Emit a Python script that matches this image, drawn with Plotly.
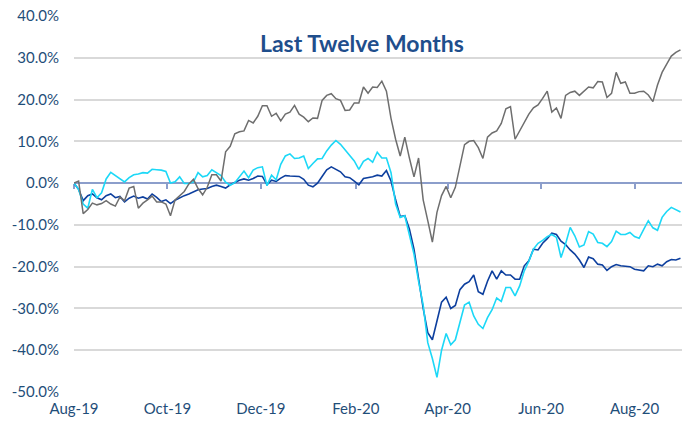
import plotly.graph_objects as go
import pandas as pd

# Dates sampled every 3 days across the last twelve months
dates = pd.date_range("2019-08-01", periods=133, freq="3D")

gray_series = [
    0.0, 0.5, -7.3, -6.3, -4.8, -5.2, -4.9, -4.2, -5.0, -5.5,
    -3.3, -4.2, -1.2, -0.8, -6.0, -4.8, -4.0, -3.1, -4.5, -4.5,
    -5.0, -7.8, -4.0, -3.1, -2.0, -0.2, 0.9, -1.3, -2.8, -1.0,
    2.0, 2.0, 0.5, 7.5,
    8.8, 11.8, 12.3, 12.5, 15.0, 14.4, 16.0, 18.5, 18.5, 16.0,
    16.7, 14.9, 16.5, 17.0, 18.6, 16.5, 15.8, 14.7, 15.6, 15.5,
    19.8, 21.0, 21.4, 20.2, 19.8, 17.4, 17.5, 19.2, 19.2, 23.0,
    21.5, 23.0, 22.9, 24.4, 22.0, 15.5,
    10.5, 6.5, 11.0, 6.0, 1.5, 6.0, -4.0, -9.0, -14.1, -7.0,
    -3.0, -0.8, -3.5, -1.0, 4.5, 9.2, 10.0, 10.2, 8.5, 5.9,
    11.0, 12.0, 12.5, 14.3, 17.8, 18.3, 10.5, 12.5, 14.7, 16.5,
    18.0, 18.7, 20.3, 22.0, 17.0, 18.0, 15.5, 21.0, 21.7, 22.0,
    21.0, 21.9, 23.0, 22.8, 24.3, 24.2, 20.5, 21.5, 26.5, 23.9,
    24.2, 21.5, 21.5, 21.9, 22.0, 21.1, 19.5, 23.5, 26.5, 28.5,
    30.4, 31.3, 31.9,
]

cyan_series = [
    0.0, -1.5, -5.0, -6.0, -1.5, -3.5, -2.3, 1.0, 2.6, 1.8,
    1.2, 0.3, 1.3, 2.0, 2.2, 2.5, 2.4, 3.3, 3.2, 3.1,
    2.8, 0.0, 0.3, 1.5, -0.1, -0.1, 0.3, 2.5, 1.5, 1.8,
    3.2, 2.6, 1.8, 0.2,
    -0.5, 0.1, 1.4, 2.9, 1.3, 3.1, 3.7, 3.9, -0.6, 1.9,
    0.8, 4.5, 6.5, 7.0, 5.9, 6.0, 6.5, 3.5, 4.7, 5.8,
    5.9, 7.7, 9.1, 10.2, 9.3, 7.9, 6.6, 5.3, 3.3, 5.2,
    5.9, 5.0, 7.4, 6.0, 6.0, 2.5,
    -5.0, -8.2, -7.8, -12.5, -17.0, -23.5, -29.2, -38.2, -42.0, -46.5,
    -40.0, -36.0, -38.7, -37.5, -33.6, -29.2, -28.5, -31.8, -33.8, -34.8,
    -32.2, -30.3, -27.5, -28.3, -25.0, -25.0, -27.0, -24.6, -21.0, -18.7,
    -15.8, -14.4, -13.7, -12.8, -12.3, -13.0, -17.8, -14.5, -10.6, -12.6,
    -15.3, -14.8, -11.6, -12.2, -14.2, -14.4, -15.2, -14.0, -11.5, -12.3,
    -12.3, -11.8, -12.8, -13.2, -11.1, -9.0, -10.7, -11.3, -8.2, -6.8,
    -5.8, -6.3, -6.9,
]

navy_series = [
    0.0, -1.5, -4.2, -3.0, -2.6, -3.5, -4.0, -3.0, -2.6, -3.5,
    -3.2, -4.5, -3.6, -3.1, -3.6, -3.3, -3.8, -2.6, -3.4, -4.4,
    -4.0, -4.9, -4.1, -3.5, -3.0, -2.6, -2.1, -1.6, -1.4, -1.3,
    -0.8, -0.5, -0.8, -1.2,
    -0.4, 0.2, 0.7, 1.0, 0.7, 1.1, 1.7, 1.6, -0.4, 0.7,
    0.4, 1.2, 1.8, 1.7, 1.7, 1.6, 0.9, -0.5, -0.9, 0.0,
    1.6, 3.2, 3.9, 3.2, 2.7, 1.5, 1.3, 0.5, -0.4, 1.1,
    1.3, 1.5, 1.9, 1.7, 3.0, 0.5,
    -4.0, -8.0, -7.8, -11.0, -15.8, -23.3, -30.0, -35.8, -37.5, -33.0,
    -28.5, -27.3, -30.0, -29.3, -25.5, -24.2, -23.6, -22.0, -26.0, -26.6,
    -23.5, -21.0, -23.0, -21.0, -22.0, -22.0, -23.0, -23.0, -19.8, -18.6,
    -15.8, -16.0, -14.4, -13.3, -12.0, -12.3, -13.9, -14.7, -16.0, -17.0,
    -18.4, -20.2, -17.7, -18.1, -19.4, -19.6, -20.9, -20.0, -19.5, -19.8,
    -19.9, -20.0, -20.6, -20.8, -21.0, -19.8, -20.0, -19.4, -19.8, -18.8,
    -18.3, -18.4, -18.0,
]

x_tick_dates = ["2019-08-01", "2019-10-01", "2019-12-01", "2020-02-01",
                "2020-04-01", "2020-06-01", "2020-08-01"]
x_tick_labels = ["Aug-19", "Oct-19", "Dec-19", "Feb-20", "Apr-20", "Jun-20", "Aug-20"]
y_tick_values = [-50, -40, -30, -20, -10, 0, 10, 20, 30, 40]
y_tick_labels = [f"{v:.1f}%" for v in y_tick_values]

title_text = "Last Twelve Months"

FONT = "Lato, 'Open Sans', sans-serif"
LABEL_COLOR = "#1F4E79"
AXIS_COLOR = "#8C9ECB"
x_range = ["2019-08-01", "2020-09-01"]

fig = go.Figure()
fig.add_trace(go.Scatter(x=dates, y=navy_series, mode="lines",
                         line=dict(color="#0D3F9E", width=1.6), showlegend=False))
fig.add_trace(go.Scatter(x=dates, y=cyan_series, mode="lines",
                         line=dict(color="#1CD8F7", width=1.6), showlegend=False))
fig.add_trace(go.Scatter(x=dates, y=gray_series, mode="lines",
                         line=dict(color="#6E6E6E", width=1.5), showlegend=False))
# helper trace so the zero-crossing axis is rendered
fig.add_trace(go.Scatter(x=[dates[0]], y=[None], xaxis="x2", mode="lines",
                         showlegend=False, hoverinfo="skip"))

fig.update_layout(
    width=689, height=428,
    margin=dict(l=74, r=7, t=16, b=36),
    paper_bgcolor="white", plot_bgcolor="white",
    font=dict(family=FONT, color=LABEL_COLOR),
    xaxis=dict(type="date", range=x_range, tickvals=x_tick_dates, ticktext=x_tick_labels,
               showgrid=False, showline=False, zeroline=False, ticks="",
               tickfont=dict(size=15, color=LABEL_COLOR, family=FONT),
               ticklabelstandoff=6),
    xaxis2=dict(type="date", range=x_range, overlaying="x", anchor="free",
                position=50 / 90, tickvals=x_tick_dates, showticklabels=False,
                showgrid=False, zeroline=False, showline=True, linecolor=AXIS_COLOR,
                linewidth=2.2, ticks="outside", ticklen=5, tickwidth=2,
                tickcolor=AXIS_COLOR, layer="below traces"),
    yaxis=dict(range=[-50, 40], tickvals=y_tick_values, ticktext=y_tick_labels,
               showgrid=True, gridcolor="#D9D9D9", gridwidth=1.6, zeroline=False,
               showline=False, ticks="",
               tickfont=dict(size=15, color=LABEL_COLOR, family=FONT),
               ticklabelstandoff=14),
    annotations=[dict(text=f"<b>{title_text}</b>", xref="paper", yref="paper",
                      x=0.474, y=0.927, xanchor="center", yanchor="middle",
                      showarrow=False,
                      font=dict(size=23, color="#1F4E8C", family=FONT))],
)

fig.write_html("out.html", config={"displayModeBar": False},
               post_script="document.body.style.margin='0';")
